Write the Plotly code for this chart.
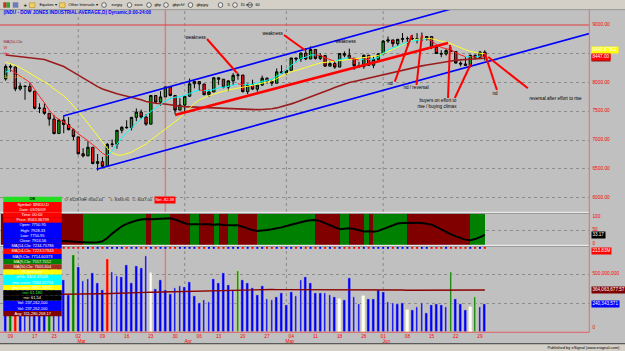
import numpy as np
import pandas as pd
import plotly.graph_objects as go

W, H = 625, 351
def px(x): return x / W
def py(y): return 1 - y / H

FONT = "Liberation Sans, Arial, sans-serif"

# ---------------- data ----------------
HOLIDAYS = ["2009-02-16", "2009-04-10", "2009-05-25"]
dates = [d for d in pd.bdate_range("2009-02-06", "2009-06-30")
         if d.strftime("%Y-%m-%d") not in HOLIDAYS]

opens = [8063, 8281, 8270, 7889, 7939, 7933, 7850, 7553, 7556, 7466,
         7366, 7115, 7351, 7271, 7180, 7056, 6764, 6726, 6876, 6595,
         6626, 6547, 6926, 6930, 7170, 7224, 7217, 7396, 7486, 7401,
         7278, 7776, 7660, 7750.95, 7924, 7776, 7522, 7609, 7762, 7978,
         8017, 7975, 7790, 7837, 8083, 8058, 7920, 8029, 8125, 8131,
         7842, 7969, 7886, 7957, 8076, 8025, 7989, 8186, 8168, 8212,
         8427, 8411, 8512, 8410, 8575, 8419, 8469, 8285, 8331, 8269,
         8504, 8475, 8422, 8292, 8277, 8473, 8300, 8404, 8500, 8721,
         8741, 8675, 8750, 8763, 8764, 8763, 8739, 8771, 8799, 8612,
         8505, 8497, 8556, 8540, 8339, 8323, 8300, 8472, 8438, 8528.93]
highs = [8316, 8320, 8280, 7990, 7945, 7990, 7850, 7640, 7640, 7466,
         7440, 7370, 7420, 7400, 7200, 7060, 6860, 6980, 6876, 6760,
         6710, 6950, 7010, 7180, 7240, 7345, 7400, 7550, 7530, 7450,
         7780, 7776, 7850, 7928.33, 7924, 7776, 7730, 7770, 8070, 8030,
         8017, 7975, 7880, 8090, 8095, 8058, 8035, 8165, 8170, 8131,
         7980, 8050, 7960, 8120, 8090, 8050, 8245, 8300, 8225, 8430,
         8430, 8520, 8600, 8630, 8575, 8510, 8469, 8380, 8370, 8510,
         8540, 8590, 8422, 8360, 8490, 8480, 8450, 8510, 8740, 8800,
         8741, 8760, 8860, 8800, 8830, 8860, 8870, 8800, 8799, 8640,
         8560, 8580, 8620, 8540, 8370, 8440, 8490, 8490, 8550, 8560.44]
lows = [8033, 8190, 7850, 7860, 7700, 7830, 7535, 7470, 7440, 7250,
        7100, 7110, 7120, 7170, 7000, 6750, 6700, 6726, 6580, 6470,
        6517, 6547, 6880, 6850, 7120, 7200, 7170, 7330, 7370, 7250,
        7278, 7640, 7600, 7750.95, 7760, 7450, 7522, 7480, 7762, 7900,
        7860, 7780, 7750, 7837, 7960, 7900, 7850, 7960, 8050, 7830,
        7800, 7870, 7840, 7940, 7980, 7940, 7989, 8150, 8130, 8212,
        8350, 8360, 8390, 8410, 8400, 8390, 8270, 8285, 8240, 8269,
        8440, 8400, 8220, 8260, 8240, 8290, 8250, 8380, 8500, 8690,
        8620, 8640, 8700, 8660, 8730, 8680, 8740, 8730, 8580, 8500,
        8440, 8470, 8530, 8330, 8280, 8290, 8260, 8400, 8430, 8383.90]
closes = [8281, 8271, 7889, 7940, 7933, 7850, 7553, 7556, 7466, 7366,
          7115, 7351, 7271, 7182, 7063, 6763, 6726, 6876, 6594, 6627,
          6547, 6926, 6930, 7170, 7224, 7217, 7396, 7487, 7401, 7278,
          7776, 7660, 7750, 7924.56, 7776, 7522, 7609, 7762, 7978, 8018,
          7976, 7790, 7837, 8083, 8058, 7920, 8030, 8125, 8131, 7842,
          7970, 7887, 7957, 8076, 8025, 7989, 8186, 8168, 8212, 8427,
          8411, 8512, 8410, 8575, 8419, 8469, 8285, 8331, 8269, 8504,
          8475, 8422, 8292, 8277, 8473, 8300, 8404, 8500, 8721, 8741,
          8675, 8750, 8763, 8764, 8763, 8739, 8771, 8799, 8612, 8505,
          8497, 8556, 8540, 8339, 8323, 8300, 8472, 8438, 8529.38, 8447.00]

ma50 = [8480, 8470, 8460, 8450, 8440, 8430, 8425, 8420, 8400, 8370,
        8340, 8310, 8280, 8230, 8180, 8120, 8070, 8030, 7980, 7930,
        7890, 7860, 7830, 7805, 7785, 7765, 7745, 7720, 7700, 7670,
        7650, 7640, 7635, 7628, 7615, 7600, 7585, 7580, 7577, 7573,
        7570, 7568, 7566, 7564, 7560, 7556, 7552, 7547, 7542, 7537,
        7532, 7530, 7530, 7532, 7535, 7545, 7560, 7580, 7605, 7630,
        7660, 7690, 7720, 7750, 7785, 7815, 7850, 7880, 7915, 7945,
        7970, 8000, 8020, 8040, 8055, 8070, 8090, 8110, 8130, 8155,
        8180, 8200, 8220, 8240, 8260, 8275, 8290, 8305, 8320, 8335,
        8350, 8365, 8378, 8388, 8395, 8401, 8407, 8412, 8418, 8422]
jma_fast = [8180, 8220, 8170, 8110, 8060, 8000, 7880, 7760, 7650, 7520,
            7420, 7360, 7310, 7260, 7190, 7110, 7050, 6990, 6920, 6850,
            6770, 6725, 6820, 6930, 7040, 7130, 7210, 7300, 7370, 7430,
            7500, 7560, 7620, 7680, 7720, 7745, 7755, 7775, 7810, 7845,
            7870, 7860, 7860, 7880, 7910, 7920, 7935, 7955, 7980, 7960,
            7965, 7970, 7990, 8020, 8040, 8060, 8110, 8160, 8220, 8300,
            8360, 8420, 8440, 8480, 8480, 8470, 8430, 8400, 8370, 8400,
            8420, 8430, 8410, 8390, 8410, 8400, 8410, 8440, 8510, 8570,
            8600, 8630, 8670, 8700, 8720, 8735, 8745, 8760, 8720, 8660,
            8610, 8590, 8570, 8520, 8480, 8450, 8450, 8445, 8460, 8455]
jma_slow = [8350, 8330, 8300, 8260, 8210, 8160, 8110, 8050, 8000, 7960,
            7890, 7830, 7770, 7690, 7600, 7500, 7400, 7290, 7180, 7060,
            6950, 6860, 6780, 6740, 6740, 6760, 6790, 6840, 6890, 6930,
            7000, 7070, 7130, 7190, 7250, 7320, 7390, 7470, 7560, 7640,
            7700, 7740, 7770, 7800, 7830, 7850, 7870, 7890, 7910, 7920,
            7935, 7950, 7970, 7990, 8010, 8030, 8070, 8110, 8150, 8190,
            8210, 8230, 8260, 8290, 8320, 8340, 8350, 8360, 8365, 8375,
            8390, 8405, 8415, 8425, 8435, 8445, 8455, 8470, 8500, 8540,
            8580, 8620, 8660, 8700, 8730, 8750, 8762, 8768, 8760, 8740,
            8715, 8700, 8680, 8640, 8600, 8570, 8540, 8520, 8510, 8500]
rsx = [48, 46, 40, 36, 33, 30, 26, 23, 20, 17,
       14, 12, 11, 10, 8, 6, 5, 5.3, 5.8, 6.5,
       10, 22, 38, 53, 65, 74, 81, 86, 90, 92,
       91, 92, 93, 94, 94.5, 90, 83, 76, 72, 72.5,
       73.5, 73, 72, 71, 72, 70, 68, 68.5, 69, 63,
       56, 51, 48, 49, 51, 54, 57, 61, 66, 71,
       76, 80, 84, 87, 88, 84, 76, 68, 60, 54,
       56, 58, 55, 50, 46, 47, 45, 48, 55, 63,
       70, 75, 77, 78, 77.8, 77.5, 77, 75, 71, 63,
       53, 43, 35, 28, 21, 16, 14, 18, 25, 33.17]
volume_m = [420, 380, 560, 470, 510, 420, 500, 460, 440, 620,
            520, 560, 451, 321, 668, 567, 445, 460, 510, 423,
            365, 634, 518, 486, 475, 582, 423, 576, 553, 662,
            510, 371, 451, 365, 327, 385, 399, 393, 437, 313,
            254, 278, 263, 457, 423, 510, 408, 365, 530, 451,
            423, 379, 321, 399, 284, 278, 301, 341, 234, 350,
            313, 451, 475, 428, 336, 336, 341, 321, 306, 286,
            278, 466, 301, 243, 313, 286, 286, 365, 350, 258,
            254, 240, 254, 191, 191, 214, 254, 168, 234, 243,
            234, 220, 523, 286, 243, 191, 220, 306, 220, 240.343571]
volume_kind = list("bgrbbbbbbg" "bbbbgbbbbb" "brbbbbbbbb" "wbbbbbbbbb"
                   "bbbbbbbbgb" "bbbbbbbbbb" "bbbbbbbbbw" "bbbbwbbbbb"
                   "bbbwbbbbbb" "bbgbbbwgbb")
volume_avg_m = [320, 321, 322, 322, 323, 323, 324, 324, 325, 325,
                326, 326, 326, 327, 328, 329, 330, 330, 331, 332,
                332, 334, 335, 336, 337, 338, 339, 340, 342, 344,
                345, 346, 347, 348, 350, 352, 354, 356, 358, 359,
                360, 361, 362, 363, 364, 365, 366, 367, 368, 369,
                369, 370, 370, 370, 369, 369, 368, 368, 367, 367,
                367, 368, 369, 370, 370, 370, 369, 368, 368, 367,
                367, 368, 367, 366, 366, 365, 365, 366, 366, 365,
                365, 364, 364, 363, 363, 363, 363, 362, 362, 362,
                362, 362, 364, 364, 364, 364, 364, 364, 364, 364.06367757]

tick_dates = ["2009-02-09", "2009-02-17", "2009-02-23", "2009-03-02", "2009-03-09",
              "2009-03-16", "2009-03-23", "2009-03-30", "2009-04-06", "2009-04-13",
              "2009-04-20", "2009-04-27", "2009-05-04", "2009-05-11", "2009-05-18",
              "2009-05-26", "2009-06-01", "2009-06-08", "2009-06-15", "2009-06-22",
              "2009-06-29"]
month_names = ["Mar", "Apr", "May", "Jun"]
cursor_date = "2009-03-26"

# drawn trend lines: (bar position, price)
upper_channel = [(11.9, 7419), (96.0, 9370)]
lower_channel = [(18.8, 6494), (123.0, 8908)]
support_line = [(35.0, 7437), (91.4, 8687)]
arrow_lines = [[(41.6, 8757), (47.8, 8166)],
               [(57.5, 8826), (61.8, 8566)],
               [(80.4, 8015), (83.9, 8826)],
               [(84.9, 7958), (86.0, 8826)],
               [(91.4, 7732), (91.8, 8653)],
               [(92.8, 7732), (96.1, 8323)],
               [(101.5, 7871), (99.0, 8508)],
               [(107.9, 7900), (99.7, 8444)]]
notes = [("weakness", 39.3, 8769), ("weakness", 55.3, 8844), ("weakness", 70.3, 8705),
         ("nd", 79.5, 7970), ("nd / reversal", 84.8, 7900),
         ("buyers on effort to", 89.3, 7685), ("rise / buying climax", 89.3, 7581),
         ("nd", 101.2, 7801), ("reversal after effort to rise", 113.6, 7715)]

price_labels = [9000, 8000, 7500, 7000, 6500, 6000]
toolbar_items = ["eurjpy", "euro", "gbp", "gbpchf", "gbpjpy", "5", "15 min", "60"]
title_text = "(INDU - DOW JONES INDUSTRIAL AVERAGE,D) Dynamic,0:00-24:00"

info_rows = ["OK", "Symbol: $INDU,D", "Date: 03/26/09", "Time: 00:00", "Price: 8563.36799",
             "Open", "High", "Low", "Close",
             "MA(14,Clo: 7234.75786", "MA(14,Clo: 7223.57843", "MA(9,Clo: 7714.60373",
             "MA(9,Clo: 7557.7012", "MA(50,Clo: 7605.604", "PL Indicator",
             "p%b: 8403.37209", "jma cross: 7863.33703", "jma cross: 7853.33581",
             "rsx: 61.180", "rsx: 61.54", "Vol: 237,262,100", "Vol: 237,262,100",
             "Avg: 311,280,268.17"]

# ---------------- geometry ----------------
N = len(dates)
pos = np.arange(N)
didx = {d.strftime("%Y-%m-%d"): k for k, d in enumerate(dates)}
volume = np.array(volume_m) * 1e6
volume_avg = np.array(volume_avg_m) * 1e6

X0, STEP, RIGHT = 5.66, 4.84, 589
XR = [-X0 / STEP, (RIGHT - X0) / STEP]
PR = [5769.1, 9260.6]
IR = [-3.7, 110]
VR = [0, 7.378e8]

fig = go.Figure()

# price studies
fig.add_trace(go.Scatter(x=pos, y=ma50, mode="lines", line=dict(color="#9b1c1c", width=1.6),
                         xaxis="x", yaxis="y", hoverinfo="skip"))
fig.add_trace(go.Scatter(x=pos, y=jma_slow, mode="lines", line=dict(color="#ffff30", width=1),
                         xaxis="x", yaxis="y", hoverinfo="skip"))
up_x, up_y, dn_x, dn_y = [], [], [], []
for k in range(1, N):
    tx, ty = (up_x, up_y) if jma_fast[k] >= jma_fast[k - 1] else (dn_x, dn_y)
    tx += [pos[k - 1], pos[k], None]
    ty += [jma_fast[k - 1], jma_fast[k], None]
fig.add_trace(go.Scatter(x=up_x, y=up_y, mode="lines", line=dict(color="#00ffff", width=1),
                         xaxis="x", yaxis="y", hoverinfo="skip"))
fig.add_trace(go.Scatter(x=dn_x, y=dn_y, mode="lines", line=dict(color="#ff2020", width=1),
                         xaxis="x", yaxis="y", hoverinfo="skip"))

fig.add_trace(go.Candlestick(
    x=pos, open=opens, high=highs, low=lows, close=closes,
    increasing=dict(fillcolor="#12a012", line=dict(color="#000000", width=1)),
    decreasing=dict(fillcolor="#ff1010", line=dict(color="#000000", width=1)),
    whiskerwidth=0, xaxis="x", yaxis="y", hoverinfo="skip"))

for line, col, wd in [(upper_channel, "#0000ff", 1.6), (lower_channel, "#0000ff", 1.6),
                      (support_line, "#ff0000", 2.6)]:
    fig.add_trace(go.Scatter(x=[p[0] for p in line], y=[p[1] for p in line], mode="lines",
                             line=dict(color=col, width=wd), xaxis="x", yaxis="y",
                             hoverinfo="skip"))
for line in arrow_lines:
    fig.add_trace(go.Scatter(x=[p[0] for p in line], y=[p[1] for p in line], mode="lines",
                             line=dict(color="#ff0000", width=2), xaxis="x", yaxis="y",
                             hoverinfo="skip"))

# indicator pane
band_colors = ["#800000"] + ["#008000" if rsx[k] >= rsx[k - 1] else "#800000" for k in range(1, N)]
fig.add_trace(go.Bar(x=pos - 0.5, y=[IR[1] - IR[0]] * N, base=IR[0], width=1.02,
                     marker=dict(color=band_colors, line=dict(width=0)),
                     xaxis="x", yaxis="y2", hoverinfo="skip"))
fig.add_trace(go.Scatter(x=pos, y=rsx, mode="lines", line=dict(color="#000000", width=2),
                         xaxis="x", yaxis="y2", hoverinfo="skip"))

# volume pane
vcol = {"b": "#0000ff", "g": "#008000", "r": "#ff0000", "w": "#ffffff"}
fig.add_trace(go.Bar(x=pos, y=volume, width=0.55,
                     marker=dict(color=[vcol[c] for c in volume_kind],
                                 line=dict(color="#f4f0b0", width=0.5)),
                     xaxis="x", yaxis="y3", hoverinfo="skip"))
fig.add_trace(go.Scatter(x=pos, y=volume_avg, mode="lines", line=dict(color="#8b0000", width=1.4),
                         xaxis="x", yaxis="y3", hoverinfo="skip"))
dot_cols = ["#0000ff"] + ["#0000ff" if closes[k] >= closes[k - 1] else "#ff0000" for k in range(1, N)]
fig.add_trace(go.Scatter(x=pos, y=[7.31e8] * N, mode="markers",
                         marker=dict(symbol="square", size=2, color=dot_cols, line=dict(width=0)),
                         xaxis="x", yaxis="y3", hoverinfo="skip"))

# ---------------- shapes ----------------
shapes = []
def rect(x0, y0, x1, y1, fill, layer="above", lc=None, lw=0):
    shapes.append(dict(type="rect", xref="paper", yref="paper", x0=px(x0), x1=px(x1),
                       y0=py(y1), y1=py(y0), fillcolor=fill, layer=layer,
                       line=dict(color=lc or fill, width=lw)))
def hline(y, x0, x1, color, width=1, dash="solid", layer="above"):
    shapes.append(dict(type="line", xref="paper", yref="paper", x0=px(x0), x1=px(x1),
                       y0=py(y), y1=py(y), line=dict(color=color, width=width, dash=dash),
                       layer=layer))

# month gridlines and cursor line
for m in range(3, 7):
    first = min(k for k, d in enumerate(dates) if d.month == m)
    shapes.append(dict(type="line", xref="x", yref="paper", x0=first, x1=first,
                       y0=py(332), y1=py(10), layer="below",
                       line=dict(color="#8a8a8a", width=1, dash="dot")))
shapes.append(dict(type="line", xref="x", yref="paper", x0=didx[cursor_date], x1=didx[cursor_date],
                   y0=py(332), y1=py(10), layer="below", line=dict(color="#d88080", width=1.5)))
shapes.append(dict(type="line", xref="paper", yref="y", x0=0, x1=px(RIGHT), y0=9000, y1=9000,
                   layer="below", line=dict(color="#e03c3c", width=1)))

# pane separators and axis lines
hline(212.3, 0, RIGHT, "#f2f2f2", 1)
hline(213.5, 0, RIGHT, "#9a9a9a", 1)
hline(245.3, 0, RIGHT, "#f2f2f2", 1)
hline(246.5, 0, RIGHT, "#9a9a9a", 1)
hline(332.3, 0, RIGHT, "#e06060", 1)
shapes.append(dict(type="line", xref="paper", yref="paper", x0=px(RIGHT + 0.3), x1=px(RIGHT + 0.3),
                   y0=py(332.3), y1=py(10), line=dict(color="#e07070", width=1), layer="above"))

# toolbar and footer
rect(0, 0, W, 9.6, "#d4d0c8")
hline(9.6, 0, W, "#8c8c8c", 0.8)
rect(3.3, 2.3, 6.5, 7.7, "#c03020")
rect(6.5, 2.3, 10, 7.7, "#30a030")
rect(12.7, 2.3, 18.3, 7.7, "#6a7fb8")
rect(29.3, 2.8, 35, 7.6, "#f0d060", lc="#a08020", lw=0.5)
rect(59.3, 2.8, 65, 7.6, "#f0d060", lc="#a08020", lw=0.5)
circle_x = [104, 129.5, 149, 166, 190.5, 220.5, 235, 250]
for cx in circle_x:
    shapes.append(dict(type="circle", xref="paper", yref="paper", x0=px(cx - 2.3), x1=px(cx + 2.3),
                       y0=py(7.4), y1=py(2.6), line=dict(color="#202020", width=0.6),
                       fillcolor="#e8e8e8", layer="above"))
rect(0, 343.6, W, H, "#d4d0c8")
hline(343.6, 0, W, "#5a5a5a", 1.4)

# info box rows
row_fill = ["#22dd22", "#ff0000", "#ff0000", "#ff0000", "#ff0000",
            "#0000ff", "#0000ff", "#0000ff", "#0000ff", "#0000ff",
            "#ff0000", "#0000ff", "#008000", "#a0301c", "#ffff00",
            "#00ffff", "#00ffff", "#ffff00", "#000000", "#000000",
            "#0000ff", "#0000ff", "#800000"]
row_font = ["#000000"] + ["#ffffff"] * 17 + ["#22ff22"] + ["#ffffff"] * 4
BOX_X0, BOX_X1, ROW0, ROWH = 3.3, 61.7, 196.7, 5.2
for k, fc in enumerate(row_fill):
    rect(BOX_X0, ROW0 + k * ROWH, BOX_X1, ROW0 + (k + 1) * ROWH, fc)

# ---------------- annotations ----------------
ann = []
def text(x, y, s, color="#000000", size=4.5, xanchor="left", xref="paper", yref="paper",
         bg=None, bold=False, yshift=0):
    d = dict(x=x, y=y, xref=xref, yref=yref, text=("<b>%s</b>" % s) if bold else s,
             showarrow=False, xanchor=xanchor, yanchor="middle", yshift=yshift,
             font=dict(family=FONT, size=size, color=color), borderpad=0.4)
    if bg:
        d["bgcolor"] = bg
    ann.append(d)

text(px(38.3), py(5.2), "Equities \u25be", size=4)
text(px(66.7), py(5.2), "Other Intervals \u25be", size=4)
text_x = [110, 133.3, 153.3, 170.7, 195, 226, 239.3, 254]
for tx, s in zip(text_x, toolbar_items):
    text(px(tx), py(5.2), s, size=4)
text(px(21.5), py(5.2), "+", size=6, bold=True)
text(px(2), py(13.2), title_text, color="#0000ff", size=4.6, bold=True)
text(px(622), py(347.5), "Published by eSignal (www.esignal.com)", size=4, xanchor="right")

# price notes
for s, nx, ny in notes:
    text(nx, ny, s, size=4.6, xanchor="center", xref="x", yref="y")

# left small study labels
text(px(1.5), py(42), "MA(50,Clo", color="#9b1c1c", size=4)
text(px(1.5), py(48), "W", color="#e02020", size=4)
text(px(1.5), py(54), "Hp", color="#e02020", size=4)
text(px(1.5), py(77), "J=( 8 ,16 ,1 )", color="#e0d020", size=4)

# right axis labels
RX = px(591)
for v in price_labels:
    text(RX, v, "%.2f" % v, color="#ff0000", size=4.8, yref="y")
text(RX, ma50[-1], "%.2f" % ma50[-1], color="#ffffff", size=4.6, yref="y", bg="#8b1a1a")
text(RX, py(50.3), "8449.87902", color="#ffffff", size=4.6, bg="#ffff00")
text(RX, closes[-1], "%.2f" % closes[-1], color="#ffffff", size=4.6, yref="y", bg="#ff0000")
text(RX, 100, "100", color="#ff0000", size=4.8, yref="y2")
text(RX, 50, "50", color="#ff0000", size=4.8, yref="y2")
text(RX, rsx[-1], "%.2f" % rsx[-1], color="#ffffff", size=4.6, yref="y2", bg="#000000")
text(RX, 0, "0", color="#ff0000", size=4.8, yref="y2")
text(RX, py(250.7), "213.83M", color="#ffffff", size=4.6, bg="#ff0000")
text(RX, 5e8, "500,000,000", color="#ff0000", size=4.8, yref="y3")
text(RX, volume_avg[-1], "{:,.2f}".format(volume_avg[-1]), color="#ffffff", size=4.6,
     yref="y3", bg="#800000")
text(RX, volume[-1], "{:,.0f}".format(volume[-1]), color="#ffffff", size=4.6,
     yref="y3", bg="#0000ff")
text(RX, py(328.3), "0", color="#ff0000", size=4.8)

# month labels
for m, name in zip(range(3, 7), month_names):
    first = min(k for k, d in enumerate(dates) if d.month == m)
    text(first + 0.7, py(341.5), name, color="#ff0000", size=4.8, xanchor="center", xref="x")

# last-bar data line
o, h, l, c = opens[-1], highs[-1], lows[-1], closes[-1]
text(px(63), py(200.2), "O: %.2f" % o, size=4, color="#202020")
text(px(82), py(200.2), "H: %.2f" % h, size=4, color="#202020")
text(px(109), py(200.2), "L: %.2f" % l, size=4, color="#202020")
text(px(131), py(200.2), "C: %.2f" % c, size=4, color="#202020")
text(px(153.5), py(200.2), "Net %.2f" % (c - closes[-2]), size=4, color="#ffffff", bg="#ff0000")
text(px(1), py(216), "R", color="#ff0000", size=4)
text(px(1), py(253), "D", color="#ff0000", size=4)

# info box texts
ci = didx[cursor_date]
row_text = list(info_rows)
row_text[5] = "Open: %.2f" % opens[ci]
row_text[6] = "High: %.2f" % highs[ci]
row_text[7] = "Low: %.2f" % lows[ci]
row_text[8] = "Close: %.2f" % closes[ci]
for k, s in enumerate(row_text):
    text(px((BOX_X0 + BOX_X1) / 2), py(ROW0 + (k + 0.5) * ROWH), s, color=row_font[k],
         size=4, xanchor="center", bold=(k == 0))

# ---------------- layout ----------------
tick_pos = [didx[d] for d in tick_dates]
tick_txt = [d[-2:] for d in tick_dates]
grid = dict(showgrid=True, gridcolor="#8c8c8c", griddash="dot", gridwidth=1,
            zeroline=False, showticklabels=False, ticks="", showline=False, fixedrange=True)

fig.update_layout(
    width=W, height=H, autosize=False,
    margin=dict(l=0, r=0, t=0, b=0, pad=0),
    paper_bgcolor="#c0c0c0", plot_bgcolor="#c0c0c0",
    showlegend=False, barmode="overlay", bargap=0,
    font=dict(family=FONT),
    xaxis=dict(domain=[0, px(RIGHT)], range=XR, anchor="y3", showgrid=False, zeroline=False,
               tickmode="array", tickvals=tick_pos, ticktext=tick_txt, ticks="",
               tickfont=dict(family=FONT, size=4.8, color="#ff0000"),
               rangeslider=dict(visible=False), showline=False, fixedrange=True),
    yaxis=dict(domain=[py(211), py(10)], range=PR, anchor="x", tickmode="array",
               tickvals=[6000, 6500, 7000, 7500, 8000, 8500], **grid),
    yaxis2=dict(domain=[py(245), py(214)], range=IR, anchor="x", tickmode="array",
                tickvals=[50], **grid),
    yaxis3=dict(domain=[py(332), py(247)], range=VR, anchor="x", tickmode="array",
                tickvals=[2.5e8, 5e8], **grid),
    shapes=shapes, annotations=ann,
)

fig.write_html("out.html")
